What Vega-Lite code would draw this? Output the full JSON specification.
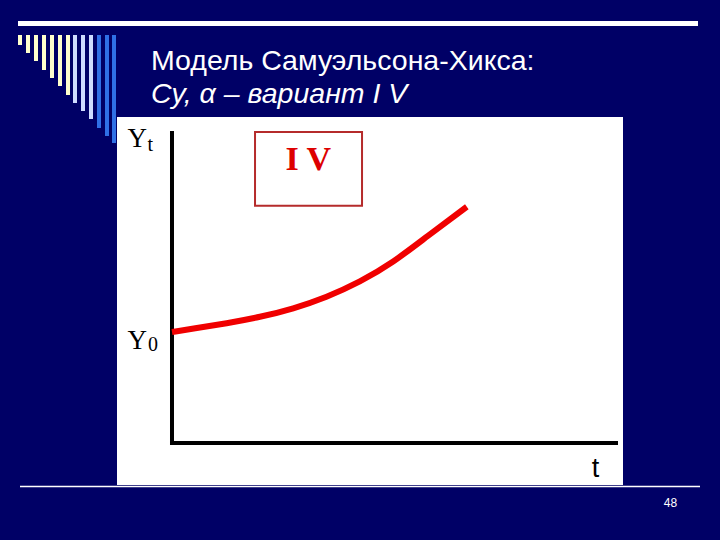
{
  "$schema": "https://vega.github.io/schema/vega-lite/v6.json",
  "width": 506,
  "height": 368,
  "autosize": {"type": "none"},
  "padding": {"left": 117, "top": 117, "right": 97, "bottom": 55},
  "background": "#000066",
  "config": {"view": {"fill": "#ffffff", "stroke": null}},
  "title": {
    "text": "Модель Самуэльсона-Хикса:",
    "subtitle": "Cy, α – вариант I V",
    "anchor": "start",
    "frame": "group",
    "dx": 34,
    "font": "Liberation Sans",
    "fontSize": 28.5,
    "fontWeight": "normal",
    "color": "#ffffff",
    "subtitleFont": "Liberation Sans",
    "subtitleFontSize": 28.5,
    "subtitleFontStyle": "italic",
    "subtitleColor": "#ffffff",
    "subtitlePadding": 4,
    "offset": -87
  },
  "datasets": {
    "curve": [
      {"t": 0, "Y": 3.58},
      {"t": 0.48, "Y": 3.69},
      {"t": 1.23, "Y": 3.86},
      {"t": 1.98, "Y": 4.06},
      {"t": 2.73, "Y": 4.33},
      {"t": 3.48, "Y": 4.7},
      {"t": 4.23, "Y": 5.19},
      {"t": 4.98, "Y": 5.82},
      {"t": 5.74, "Y": 6.66},
      {"t": 6.64, "Y": 7.62}
    ],
    "axes": [
      {"t": 0, "Y": 0, "t2": 0, "Y2": 10},
      {"t": 0, "Y": 0, "t2": 10, "Y2": 0}
    ],
    "bars": [
      {"i": 0, "x": 20, "top": 35, "bottom": 45, "shade": "cream"},
      {"i": 1, "x": 28, "top": 35, "bottom": 53, "shade": "cream"},
      {"i": 2, "x": 36, "top": 35, "bottom": 61, "shade": "cream"},
      {"i": 3, "x": 44, "top": 35, "bottom": 70, "shade": "cream"},
      {"i": 4, "x": 52, "top": 35, "bottom": 78, "shade": "cream"},
      {"i": 5, "x": 60, "top": 35, "bottom": 86, "shade": "cream"},
      {"i": 6, "x": 68, "top": 35, "bottom": 95, "shade": "cream"},
      {"i": 7, "x": 75, "top": 35, "bottom": 103, "shade": "pale"},
      {"i": 8, "x": 83, "top": 35, "bottom": 111, "shade": "pale"},
      {"i": 9, "x": 91, "top": 35, "bottom": 119, "shade": "pale"},
      {"i": 10, "x": 99, "top": 35, "bottom": 128, "shade": "blue"},
      {"i": 11, "x": 107, "top": 35, "bottom": 136, "shade": "blue"},
      {"i": 12, "x": 114, "top": 35, "bottom": 143, "shade": "blue"}
    ],
    "lines": [
      {"part": "top", "x": 18, "x2": 698, "y": 23.5},
      {"part": "bottom", "x": 20, "x2": 700, "y": 486.5}
    ]
  },
  "layer": [
    {
      "layer": [
        {
          "data": {"name": "lines"},
          "mark": {"type": "rule", "color": "#ffffff"},
          "encoding": {
            "x": {"field": "x", "type": "quantitative", "scale": {"domain": [117, 623], "nice": false, "zero": false}, "axis": null},
            "x2": {"field": "x2"},
            "y": {"field": "y", "type": "quantitative", "scale": {"domain": [117, 485], "reverse": true, "nice": false, "zero": false}, "axis": null},
            "strokeWidth": {"field": "part", "type": "nominal", "scale": {"domain": ["top", "bottom"], "range": [5, 1.5]}, "legend": null}
          }
        },
        {
          "data": {"name": "bars"},
          "mark": {"type": "rule", "strokeWidth": 4},
          "encoding": {
            "x": {"field": "x", "type": "quantitative"},
            "y": {"field": "top", "type": "quantitative"},
            "y2": {"field": "bottom"},
            "color": {"field": "shade", "type": "nominal", "scale": {"domain": ["cream", "pale", "blue"], "range": ["#ffffcc", "#cfdcff", "#2f70e6"]}, "legend": null}
          }
        },
        {
          "data": {"values": [{"page": "48", "x": 670.5, "y": 503}]},
          "mark": {"type": "text", "font": "Liberation Sans", "fontSize": 12, "color": "#ffffff", "align": "center", "baseline": "middle"},
          "encoding": {
            "x": {"field": "x", "type": "quantitative"},
            "y": {"field": "y", "type": "quantitative"},
            "text": {"field": "page"}
          }
        }
      ]
    },
    {
      "layer": [
        {
          "data": {"values": [{"t": 1.87, "t2": 4.28, "Y": 10.03, "Y2": 7.65}]},
          "mark": {"type": "rect", "fill": null, "fillOpacity": 0, "stroke": "#b52b2b", "strokeWidth": 2},
          "encoding": {
            "x": {"field": "t", "type": "quantitative", "scale": {"domain": [-1.2387, 10.1577], "nice": false, "zero": false}, "axis": null},
            "x2": {"field": "t2"},
            "y": {"field": "Y", "type": "quantitative", "scale": {"domain": [-1.3548, 10.516], "nice": false, "zero": false}, "axis": null},
            "y2": {"field": "Y2"}
          }
        },
        {
          "data": {"values": [{"t": 3.07, "Y": 8.81, "label": "I V"}]},
          "mark": {"type": "text", "font": "Liberation Serif", "fontSize": 34, "fontWeight": "bold", "color": "#dd0000", "align": "center", "baseline": "alphabetic"},
          "encoding": {
            "x": {"field": "t", "type": "quantitative"},
            "y": {"field": "Y", "type": "quantitative"},
            "text": {"field": "label"}
          }
        },
        {
          "data": {"name": "axes"},
          "mark": {"type": "rule", "color": "#000000", "strokeWidth": 4, "strokeCap": "square"},
          "encoding": {
            "x": {"field": "t", "type": "quantitative"},
            "x2": {"field": "t2"},
            "y": {"field": "Y", "type": "quantitative"},
            "y2": {"field": "Y2"}
          }
        },
        {
          "data": {"name": "curve"},
          "mark": {"type": "line", "color": "#f00000", "strokeWidth": 6, "interpolate": "basis", "strokeCap": "butt"},
          "encoding": {
            "x": {"field": "t", "type": "quantitative"},
            "y": {"field": "Y", "type": "quantitative"}
          }
        },
        {
          "data": {"values": [{"t": 0, "Y": 10, "label": "Y"}]},
          "mark": {"type": "text", "font": "Liberation Serif", "fontSize": 27, "color": "#000000", "align": "right", "baseline": "alphabetic", "dx": -25, "dy": 14},
          "encoding": {"x": {"field": "t", "type": "quantitative"}, "y": {"field": "Y", "type": "quantitative"}, "text": {"field": "label"}}
        },
        {
          "data": {"values": [{"t": 0, "Y": 10, "label": "t"}]},
          "mark": {"type": "text", "font": "Liberation Serif", "fontSize": 20, "color": "#000000", "align": "left", "baseline": "alphabetic", "dx": -24.5, "dy": 18},
          "encoding": {"x": {"field": "t", "type": "quantitative"}, "y": {"field": "Y", "type": "quantitative"}, "text": {"field": "label"}}
        },
        {
          "data": {"values": [{"t": 0, "Y": 3.58, "label": "Y"}]},
          "mark": {"type": "text", "font": "Liberation Serif", "fontSize": 27, "color": "#000000", "align": "right", "baseline": "alphabetic", "dx": -25, "dy": 17},
          "encoding": {"x": {"field": "t", "type": "quantitative"}, "y": {"field": "Y", "type": "quantitative"}, "text": {"field": "label"}}
        },
        {
          "data": {"values": [{"t": 0, "Y": 3.58, "label": "0"}]},
          "mark": {"type": "text", "font": "Liberation Serif", "fontSize": 20, "color": "#000000", "align": "left", "baseline": "alphabetic", "dx": -24, "dy": 19},
          "encoding": {"x": {"field": "t", "type": "quantitative"}, "y": {"field": "Y", "type": "quantitative"}, "text": {"field": "label"}}
        },
        {
          "data": {"values": [{"t": 10, "Y": 0, "label": "t"}]},
          "mark": {"type": "text", "font": "Liberation Sans", "fontSize": 27, "color": "#000000", "align": "center", "baseline": "alphabetic", "dx": -20.5, "dy": 34},
          "encoding": {"x": {"field": "t", "type": "quantitative"}, "y": {"field": "Y", "type": "quantitative"}, "text": {"field": "label"}}
        }
      ]
    }
  ],
  "resolve": {"scale": {"x": "independent", "y": "independent", "color": "independent", "strokeWidth": "independent"}}
}
